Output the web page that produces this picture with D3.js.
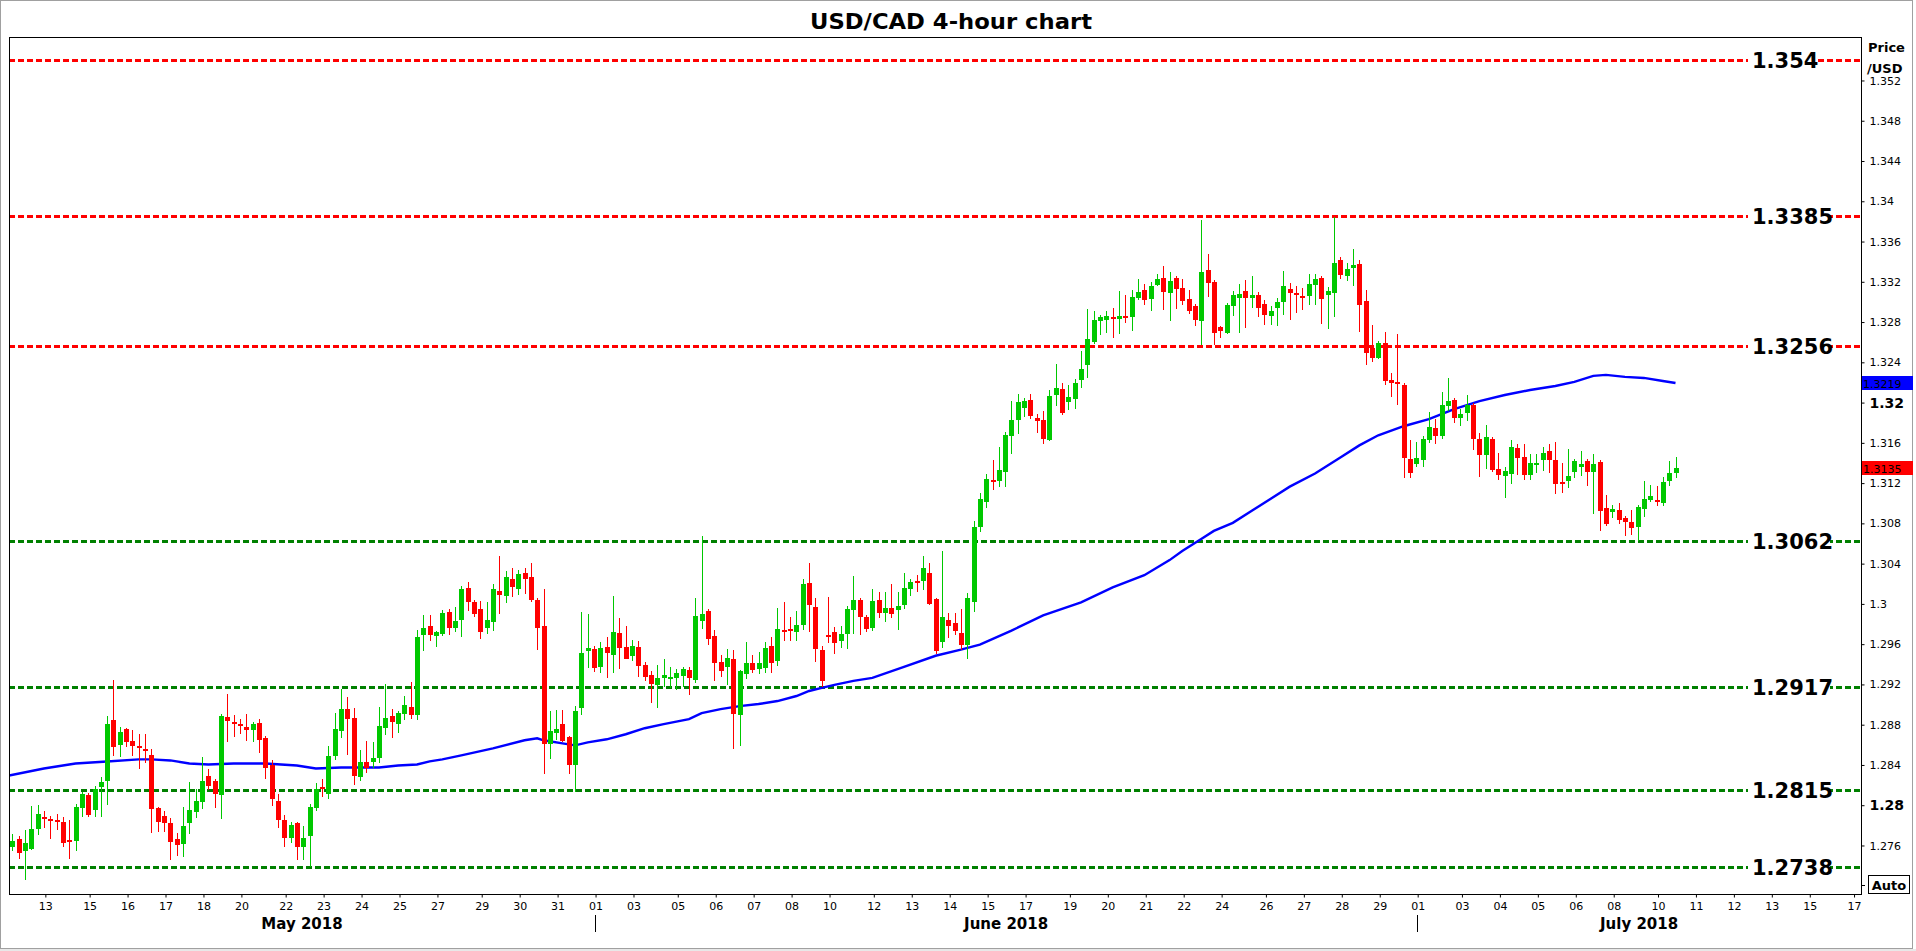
<!DOCTYPE html>
<html>
<head>
<meta charset="utf-8">
<script src="https://cdn.jsdelivr.net/npm/d3@7"></script>
<style>
body { margin: 0; background: #fff; }
svg { display: block; }
</style>
</head>
<body>
<div id="main"></div>
<script>
// 4-hour bars, each row is [open, high, low, close]
const candles = [
  [1.2758,1.2771,1.2754,1.2764],[1.2766,1.2769,1.2746,1.2752],[1.2754,1.2775,1.2725,1.2762],[1.2756,1.2799,1.2755,1.2776],
  [1.2776,1.2800,1.2770,1.2791],[1.2788,1.2794,1.2777,1.2786],[1.2786,1.2789,1.2766,1.2784],[1.2785,1.2791,1.2775,1.2783],
  [1.2783,1.2788,1.2758,1.2762],[1.2765,1.2785,1.2746,1.2764],[1.2764,1.2801,1.2754,1.2798],[1.2797,1.2813,1.2788,1.2811],
  [1.2810,1.2812,1.2788,1.2790],[1.2795,1.2819,1.2788,1.2816],[1.2818,1.2828,1.2788,1.2823],[1.2824,1.2888,1.2800,1.2880],
  [1.2884,1.2924,1.2848,1.2857],[1.2859,1.2877,1.2847,1.2872],[1.2875,1.2876,1.2857,1.2862],[1.2863,1.2874,1.2848,1.2858],
  [1.2858,1.2870,1.2835,1.2856],[1.2855,1.2870,1.2841,1.2854],[1.2849,1.2855,1.2772,1.2796],[1.2797,1.2798,1.2773,1.2783],
  [1.2789,1.2794,1.2773,1.2782],[1.2782,1.2787,1.2745,1.2763],[1.2766,1.2772,1.2749,1.2760],[1.2761,1.2798,1.2748,1.2779],
  [1.2782,1.2823,1.2771,1.2795],[1.2793,1.2816,1.2787,1.2804],[1.2803,1.2847,1.2796,1.2824],[1.2829,1.2835,1.2815,1.2819],
  [1.2824,1.2826,1.2797,1.2811],[1.2810,1.2890,1.2786,1.2888],[1.2887,1.2910,1.2862,1.2883],[1.2882,1.2889,1.2867,1.2880],
  [1.2880,1.2885,1.2870,1.2878],[1.2877,1.2890,1.2863,1.2874],[1.2874,1.2882,1.2862,1.2880],[1.2881,1.2885,1.2851,1.2864],
  [1.2866,1.2868,1.2826,1.2836],[1.2839,1.2844,1.2799,1.2806],[1.2804,1.2811,1.2777,1.2785],[1.2785,1.2790,1.2758,1.2767],
  [1.2767,1.2783,1.2762,1.2780],[1.2782,1.2783,1.2745,1.2758],[1.2758,1.2779,1.2745,1.2767],[1.2769,1.2801,1.2738,1.2798],
  [1.2797,1.2822,1.2794,1.2816],[1.2818,1.2826,1.2808,1.2816],[1.2811,1.2858,1.2806,1.2848],[1.2848,1.2891,1.2844,1.2875],
  [1.2873,1.2915,1.2866,1.2895],[1.2895,1.2907,1.2849,1.2885],[1.2886,1.2896,1.2820,1.2829],[1.2828,1.2854,1.2824,1.2842],
  [1.2842,1.2863,1.2832,1.2836],[1.2842,1.2862,1.2836,1.2846],[1.2846,1.2897,1.2841,1.2878],[1.2876,1.2920,1.2869,1.2886],
  [1.2888,1.2895,1.2866,1.2882],[1.2880,1.2893,1.2871,1.2891],[1.2890,1.2908,1.2884,1.2899],[1.2897,1.2922,1.2885,1.2889],
  [1.2889,1.2974,1.2884,1.2967],[1.2969,1.2988,1.2953,1.2976],[1.2978,1.2988,1.2963,1.2969],[1.2968,1.2973,1.2957,1.2972],
  [1.2970,1.2993,1.2968,1.2990],[1.2991,1.2994,1.2969,1.2976],[1.2976,1.2996,1.2972,1.2983],[1.2984,1.3017,1.2967,1.3014],
  [1.3015,1.3021,1.2992,1.3001],[1.3001,1.3003,1.2986,1.2989],[1.2994,1.3002,1.2965,1.2972],[1.2976,1.3001,1.2970,1.2984],
  [1.2982,1.3019,1.2973,1.3014],[1.3012,1.3047,1.2989,1.3008],[1.3007,1.3032,1.3000,1.3026],[1.3024,1.3035,1.3006,1.3016],
  [1.3014,1.3033,1.3008,1.3029],[1.3030,1.3035,1.3009,1.3024],[1.3026,1.3040,1.3001,1.3003],[1.3003,1.3005,1.2954,1.2976],
  [1.2978,1.3014,1.2831,1.2860],[1.2860,1.2893,1.2845,1.2873],[1.2871,1.2894,1.2864,1.2875],[1.2880,1.2894,1.2862,1.2863],
  [1.2867,1.2868,1.2831,1.2839],[1.2839,1.2898,1.2813,1.2893],[1.2896,1.2991,1.2889,1.2951],[1.2953,1.2989,1.2936,1.2956],
  [1.2955,1.2958,1.2932,1.2936],[1.2937,1.2962,1.2931,1.2956],[1.2957,1.2967,1.2926,1.2951],[1.2949,1.3007,1.2931,1.2972],
  [1.2971,1.2985,1.2935,1.2956],[1.2957,1.2978,1.2945,1.2945],[1.2948,1.2964,1.2943,1.2958],[1.2957,1.2963,1.2927,1.2938],
  [1.2939,1.2942,1.2923,1.2927],[1.2929,1.2933,1.2901,1.2920],[1.2919,1.2939,1.2896,1.2926],[1.2926,1.2945,1.2917,1.2929],
  [1.2925,1.2937,1.2916,1.2927],[1.2926,1.2935,1.2914,1.2931],[1.2928,1.2937,1.2917,1.2935],[1.2934,1.2937,1.2909,1.2926],
  [1.2924,1.3005,1.2921,1.2987],[1.2983,1.3067,1.2975,1.2989],[1.2992,1.2994,1.2959,1.2965],[1.2968,1.2974,1.2923,1.2941],
  [1.2942,1.2949,1.2927,1.2933],[1.2937,1.2955,1.2919,1.2946],[1.2945,1.2954,1.2855,1.2890],[1.2889,1.2934,1.2858,1.2933],
  [1.2930,1.2962,1.2925,1.2941],[1.2941,1.2949,1.2931,1.2934],[1.2935,1.2952,1.2930,1.2941],[1.2936,1.2962,1.2931,1.2956],
  [1.2958,1.2967,1.2931,1.2941],[1.2943,1.2995,1.2938,1.2975],[1.2974,1.3001,1.2963,1.2972],[1.2975,1.2986,1.2963,1.2973],
  [1.2972,1.2992,1.2963,1.2979],[1.2979,1.3024,1.2974,1.3019],[1.3020,1.3040,1.2972,1.2998],[1.2996,1.3005,1.2942,1.2955],
  [1.2954,1.2958,1.2917,1.2923],[1.2969,1.3006,1.2961,1.2967],[1.2972,1.2977,1.2950,1.2961],[1.2963,1.2978,1.2956,1.2970],
  [1.2970,1.2997,1.2955,1.2994],[1.2993,1.3027,1.2970,1.3003],[1.3003,1.3005,1.2969,1.2986],[1.2986,1.2988,1.2972,1.2975],
  [1.2976,1.3014,1.2973,1.3002],[1.3003,1.3011,1.2985,1.2990],[1.2990,1.3011,1.2982,1.2995],[1.2995,1.3019,1.2985,1.2989],
  [1.2993,1.3011,1.2974,1.2997],[1.2998,1.3030,1.2994,1.3015],[1.3014,1.3024,1.3007,1.3021],[1.3022,1.3028,1.3011,1.3021],
  [1.3022,1.3047,1.3013,1.3035],[1.3030,1.3040,1.2998,1.2999],[1.3004,1.3005,1.2950,1.2953],[1.2962,1.3052,1.2956,1.2986],
  [1.2984,1.2990,1.2966,1.2978],[1.2981,1.2990,1.2969,1.2973],[1.2971,1.2994,1.2954,1.2959],[1.2959,1.3010,1.2945,1.3005],
  [1.3001,1.3082,1.2991,1.3076],[1.3076,1.3110,1.3071,1.3104],[1.3101,1.3129,1.3095,1.3124],[1.3123,1.3142,1.3113,1.3122],
  [1.3122,1.3155,1.3116,1.3133],[1.3131,1.3170,1.3116,1.3167],[1.3166,1.3201,1.3148,1.3182],[1.3182,1.3208,1.3168,1.3200],
  [1.3194,1.3204,1.3185,1.3201],[1.3202,1.3208,1.3183,1.3186],[1.3184,1.3188,1.3169,1.3181],[1.3182,1.3191,1.3158,1.3163],
  [1.3162,1.3212,1.3161,1.3206],[1.3207,1.3238,1.3196,1.3214],[1.3213,1.3219,1.3187,1.3189],[1.3200,1.3217,1.3192,1.3205],
  [1.3203,1.3223,1.3193,1.3219],[1.3222,1.3251,1.3214,1.3233],[1.3237,1.3292,1.3224,1.3263],[1.3260,1.3290,1.3258,1.3282],
  [1.3281,1.3287,1.3267,1.3285],[1.3282,1.3290,1.3269,1.3286],[1.3285,1.3293,1.3264,1.3284],[1.3283,1.3310,1.3268,1.3286],
  [1.3286,1.3306,1.3279,1.3284],[1.3285,1.3311,1.3271,1.3304],[1.3303,1.3322,1.3301,1.3309],[1.3311,1.3317,1.3296,1.3301],
  [1.3302,1.3319,1.3290,1.3315],[1.3316,1.3327,1.3315,1.3322],[1.3323,1.3335,1.3291,1.3309],[1.3308,1.3329,1.3281,1.3320],
  [1.3323,1.3325,1.3292,1.3312],[1.3313,1.3322,1.3296,1.3300],[1.3302,1.3311,1.3288,1.3290],[1.3295,1.3297,1.3276,1.3282],
  [1.3281,1.3381,1.3257,1.3329],[1.3331,1.3347,1.3304,1.3318],[1.3319,1.3321,1.3257,1.3269],[1.3275,1.3276,1.3264,1.3271],
  [1.3269,1.3298,1.3268,1.3296],[1.3295,1.3310,1.3286,1.3306],[1.3303,1.3317,1.3269,1.3307],[1.3310,1.3321,1.3274,1.3303],
  [1.3303,1.3325,1.3293,1.3306],[1.3306,1.3309,1.3285,1.3293],[1.3297,1.3301,1.3277,1.3287],[1.3286,1.3295,1.3277,1.3290],
  [1.3293,1.3303,1.3276,1.3299],[1.3299,1.3330,1.3287,1.3315],[1.3312,1.3318,1.3282,1.3308],[1.3308,1.3315,1.3289,1.3306],
  [1.3305,1.3313,1.3291,1.3303],[1.3305,1.3327,1.3296,1.3317],[1.3316,1.3327,1.3296,1.3322],[1.3323,1.3325,1.3278,1.3302],
  [1.3306,1.3314,1.3273,1.3310],[1.3308,1.3384,1.3285,1.3338],[1.3341,1.3344,1.3322,1.3326],[1.3325,1.3338,1.3320,1.3332],
  [1.3333,1.3352,1.3315,1.3336],[1.3337,1.3341,1.3270,1.3296],[1.3300,1.3311,1.3237,1.3249],[1.3254,1.3277,1.3240,1.3244],
  [1.3244,1.3261,1.3243,1.3259],[1.3259,1.3270,1.3217,1.3221],[1.3222,1.3229,1.3205,1.3219],[1.3220,1.3268,1.3197,1.3218],
  [1.3217,1.3219,1.3125,1.3144],[1.3143,1.3162,1.3125,1.3130],[1.3138,1.3160,1.3136,1.3144],[1.3142,1.3166,1.3136,1.3163],
  [1.3162,1.3190,1.3159,1.3175],[1.3174,1.3183,1.3158,1.3166],[1.3166,1.3210,1.3163,1.3197],[1.3196,1.3224,1.3191,1.3201],
  [1.3202,1.3204,1.3179,1.3184],[1.3184,1.3193,1.3176,1.3188],[1.3189,1.3207,1.3181,1.3197],[1.3197,1.3199,1.3152,1.3163],
  [1.3163,1.3169,1.3126,1.3147],[1.3147,1.3177,1.3134,1.3165],[1.3163,1.3165,1.3131,1.3133],[1.3134,1.3149,1.3123,1.3128],
  [1.3127,1.3136,1.3105,1.3132],[1.3129,1.3162,1.3119,1.3155],[1.3154,1.3158,1.3128,1.3144],[1.3145,1.3158,1.3123,1.3128],
  [1.3128,1.3148,1.3123,1.3139],[1.3138,1.3148,1.3130,1.3139],[1.3142,1.3155,1.3132,1.3149],[1.3151,1.3158,1.3130,1.3142],
  [1.3142,1.3160,1.3109,1.3119],[1.3121,1.3139,1.3110,1.3120],[1.3122,1.3153,1.3115,1.3127],[1.3131,1.3143,1.3125,1.3141],
  [1.3136,1.3151,1.3127,1.3138],[1.3141,1.3143,1.3117,1.3131],[1.3131,1.3148,1.3089,1.3138],[1.3140,1.3142,1.3072,1.3092],
  [1.3095,1.3108,1.3077,1.3079],[1.3091,1.3098,1.3085,1.3094],[1.3093,1.3100,1.3079,1.3083],[1.3085,1.3087,1.3067,1.3081],
  [1.3081,1.3093,1.3068,1.3075],[1.3076,1.3098,1.3062,1.3096],[1.3094,1.3122,1.3086,1.3104],[1.3103,1.3118,1.3101,1.3107],
  [1.3103,1.3117,1.3097,1.3102],[1.3100,1.3126,1.3097,1.3121],[1.3122,1.3141,1.3117,1.3130],[1.3130,1.3145,1.3125,1.3135]
];
// moving average (blue line), read at bar positions
const maIdx = [-0.5, 5, 10, 15, 20, 22, 25, 28, 31, 35, 40, 45, 48, 52, 58, 61, 64, 66, 68, 71, 76, 81, 83, 84, 87, 89, 91, 94, 97, 100,
  103, 107, 109, 112, 115, 118, 121, 124, 126, 128, 130, 133, 136, 141, 146, 150, 153, 158, 163, 169, 174, 179, 183, 185, 188, 190,
  193, 196, 199, 202, 206, 210, 213, 216, 220, 224, 228, 232, 236, 240, 244, 247, 250, 252, 255, 258, 261, 263];
const maVals = [1.2829, 1.2836, 1.2841, 1.2843, 1.2845, 1.2845, 1.2844, 1.2841, 1.2840, 1.2841, 1.2841, 1.2839, 1.2836, 1.2837, 1.2837,
  1.2839, 1.2840, 1.2843, 1.2845, 1.2849, 1.2856, 1.2864, 1.2866, 1.2864, 1.2861, 1.2859, 1.2862, 1.2865, 1.2870, 1.2876,
  1.2880, 1.2885, 1.2891, 1.2895, 1.2898, 1.2900, 1.2903, 1.2908, 1.2913, 1.2916, 1.2919, 1.2923, 1.2926, 1.2937, 1.2948,
  1.2954, 1.2959, 1.2973, 1.2988, 1.3001, 1.3016, 1.3028, 1.3043, 1.3052, 1.3064, 1.3072, 1.3080, 1.3092, 1.3104, 1.3116,
  1.3129, 1.3145, 1.3157, 1.3167, 1.3176, 1.3183, 1.3193, 1.3201, 1.3207, 1.3212, 1.3216, 1.3220, 1.3226, 1.3227, 1.3225,
  1.3224, 1.3221, 1.3219];
// horizontal support / resistance levels
const levelVals = [1.354, 1.3385, 1.3256, 1.3062, 1.2917, 1.2815, 1.2738];
const levelText = ['1.354', '1.3385', '1.3256', '1.3062', '1.2917', '1.2815', '1.2738'];
const levelColors = ['#ff0000', '#ff0000', '#ff0000', '#008000', '#008000', '#008000', '#008000'];
// price axis
const yTicks = [1.352, 1.348, 1.344, 1.34, 1.336, 1.332, 1.328, 1.324, 1.32, 1.316, 1.312, 1.308, 1.304, 1.3,
  1.296, 1.292, 1.288, 1.284, 1.28, 1.276];
const yMajor = [1.32, 1.28];
// date axis: label and bar position of each day tick
const dayLabels = ['13', '15', '16', '17', '18', '20', '22', '23', '24', '25', '27', '29', '30', '31', '01', '03', '05', '06',
  '07', '08', '10', '12', '13', '14', '15', '17', '19', '20', '21', '22', '24', '26', '27', '28', '29', '01', '03', '04', '05',
  '06', '08', '10', '11', '12', '13', '15', '17'];
const dayIdx = [5, 12, 18, 24, 30, 36, 43, 49, 55, 61, 67, 74, 80, 86, 92, 98, 105, 111, 117, 123, 129, 136, 142, 148, 154,
  160, 167, 173, 179, 185, 191, 198, 204, 210, 216, 222, 229, 235, 241, 247, 253, 260, 266, 272, 278, 284, 291];
const monthLabels = ['May 2018', 'June 2018', 'July 2018'];
const monthBreaks = [92, 222];
// last values shown on the price axis
const lastMa = 1.3219;
const lastClose = 1.3135;

function main() {
  const width = 1916;
  const height = 951;
  const left = 9;
  const right = 1861;
  const top = 37;
  const bottom = 894;
  const green = '#00c800';
  const red = '#ff0000';
  const font = 'DejaVu Sans, Verdana, sans-serif';

  const xScale = d3.scaleLinear().domain([-0.52, 292.33]).range([left, right]);
  const yScale = d3.scaleLinear().domain([1.27113, 1.35627]).range([bottom, top]);

  const svg = d3.select('#main').append('svg')
    .attr('width', width)
    .attr('height', height)
    .style('font-family', font);

  // outer window frame
  svg.append('rect').attr('width', width).attr('height', height).attr('fill', '#fff');
  svg.append('rect').attr('x', 0.5).attr('y', 0.5).attr('width', 1912).attr('height', 948)
    .attr('fill', 'none').attr('stroke', '#a0a0a0');
  svg.append('rect').attr('x', 0).attr('y', 949).attr('width', width).attr('height', 2).attr('fill', '#e8e8e8');

  // title
  svg.append('text')
    .attr('x', 951).attr('y', 29)
    .attr('text-anchor', 'middle')
    .style('font-size', '22px').style('font-weight', 'bold')
    .attr('textLength', 282).attr('lengthAdjust', 'spacingAndGlyphs')
    .text('USD/CAD 4-hour chart');

  svg.append('clipPath').attr('id', 'plot')
    .append('rect').attr('x', left).attr('y', top).attr('width', right - left).attr('height', bottom - top);

  const plot = svg.append('g').attr('clip-path', 'url(#plot)');

  // level lines
  plot.selectAll('.level').data(levelVals).enter().append('line')
    .attr('x1', left).attr('x2', right)
    .attr('y1', d => Math.round(yScale(d)) + 0.5).attr('y2', d => Math.round(yScale(d)) + 0.5)
    .attr('stroke', (d, i) => levelColors[i])
    .attr('stroke-width', 3)
    .attr('stroke-dasharray', '6,3');

  // moving average
  const maLine = d3.line().x(d => xScale(d[0])).y(d => yScale(d[1]));
  plot.append('path')
    .datum(maIdx.map((d, i) => [d, maVals[i]]))
    .attr('d', maLine)
    .attr('fill', 'none')
    .attr('stroke', '#0000ff')
    .attr('stroke-width', 2.4);

  // candles
  const bars = plot.selectAll('.bar').data(candles).enter().append('g')
    .attr('shape-rendering', 'crispEdges')
    .attr('fill', d => (d[3] >= d[0] ? green : red));
  bars.append('rect')
    .attr('x', (d, i) => Math.round(xScale(i)))
    .attr('width', 1)
    .attr('y', d => Math.round(yScale(d[1])))
    .attr('height', d => Math.max(1, Math.round(yScale(d[2])) - Math.round(yScale(d[1]))));
  bars.append('rect')
    .attr('x', (d, i) => Math.round(xScale(i)) - 2)
    .attr('width', 5)
    .attr('y', d => Math.round(yScale(Math.max(d[0], d[3]))))
    .attr('height', d => Math.max(2, Math.round(yScale(Math.min(d[0], d[3]))) - Math.round(yScale(Math.max(d[0], d[3])))));

  // level labels with white background
  const labels = svg.selectAll('.lvl').data(levelVals).enter().append('g')
    .attr('transform', d => `translate(1752, ${yScale(d)})`);
  labels.append('rect')
    .attr('x', -4).attr('y', -11).attr('height', 22)
    .attr('width', (d, i) => levelText[i].length * 14 - 2)
    .attr('fill', '#fff');
  labels.append('text')
    .attr('y', 8)
    .style('font-size', '21px').style('font-weight', 'bold')
    .text((d, i) => levelText[i]);

  // plot frame
  svg.append('rect')
    .attr('x', left + 0.5).attr('y', top + 0.5)
    .attr('width', right - left).attr('height', bottom - top)
    .attr('fill', 'none').attr('stroke', '#000');

  // price axis
  const yAxis = d3.axisRight(yScale)
    .tickValues(yTicks)
    .tickSize(3)
    .tickPadding(5)
    .tickFormat(d => String(+d.toFixed(3)));
  const ya = svg.append('g')
    .attr('transform', `translate(${right + 0.5},0.5)`)
    .call(yAxis);
  ya.select('.domain').remove();
  ya.selectAll('text')
    .style('font-family', font)
    .style('font-size', d => (yMajor.includes(d) ? '14px' : '11px'))
    .style('font-weight', d => (yMajor.includes(d) ? 'bold' : 'normal'))
    .attr('fill', '#000');

  svg.append('text').attr('x', 1868).attr('y', 52)
    .style('font-size', '13px').style('font-weight', 'bold').text('Price');
  svg.append('text').attr('x', 1867).attr('y', 73)
    .style('font-size', '13px').style('font-weight', 'bold').text('/USD');

  // last value boxes
  const tags = [[lastMa, '#0000ff'], [lastClose, '#ff0000']];
  tags.forEach(t => {
    const yy = Math.round(yScale(t[0]));
    svg.append('rect').attr('x', 1862).attr('y', yy - 7).attr('width', 51).attr('height', 14).attr('fill', t[1]);
    svg.append('text').attr('x', 1863).attr('y', yy + 5)
      .style('font-size', '11px').attr('fill', '#000').text(t[0].toFixed(4));
  });

  // auto box
  svg.append('line').attr('x1', right).attr('x2', right + 4).attr('y1', 885.5).attr('y2', 885.5).attr('stroke', '#000');
  svg.append('rect').attr('x', 1868.5).attr('y', 875.5).attr('width', 41).attr('height', 18)
    .attr('fill', '#fff').attr('stroke', '#000');
  svg.append('text').attr('x', 1889).attr('y', 890).attr('text-anchor', 'middle')
    .style('font-size', '13px').style('font-weight', 'bold').text('Auto');

  // date axis
  const xAxis = d3.axisBottom(xScale)
    .tickValues(dayIdx.map(d => d + 0.15))
    .tickSize(3)
    .tickPadding(5)
    .tickFormat((d, i) => dayLabels[i]);
  const xa = svg.append('g')
    .attr('transform', `translate(0.5,${bottom + 0.5})`)
    .call(xAxis);
  xa.select('.domain').remove();
  xa.selectAll('text').style('font-family', font).style('font-size', '11px').attr('fill', '#000');

  // month separators and names
  monthBreaks.forEach(b => {
    const xx = Math.round(xScale(b + 0.15)) + 0.5;
    svg.append('line').attr('x1', xx).attr('x2', xx).attr('y1', 915).attr('y2', 932).attr('stroke', '#000');
  });
  const edges = [left].concat(monthBreaks.map(b => xScale(b + 0.15))).concat([right]);
  monthLabels.forEach((m, i) => {
    svg.append('text')
      .attr('x', (edges[i] + edges[i + 1]) / 2).attr('y', 929)
      .attr('text-anchor', 'middle')
      .style('font-size', '15px').style('font-weight', 'bold')
      .text(m);
  });
}

document.addEventListener('DOMContentLoaded', main);
</script>
</body>
</html>
